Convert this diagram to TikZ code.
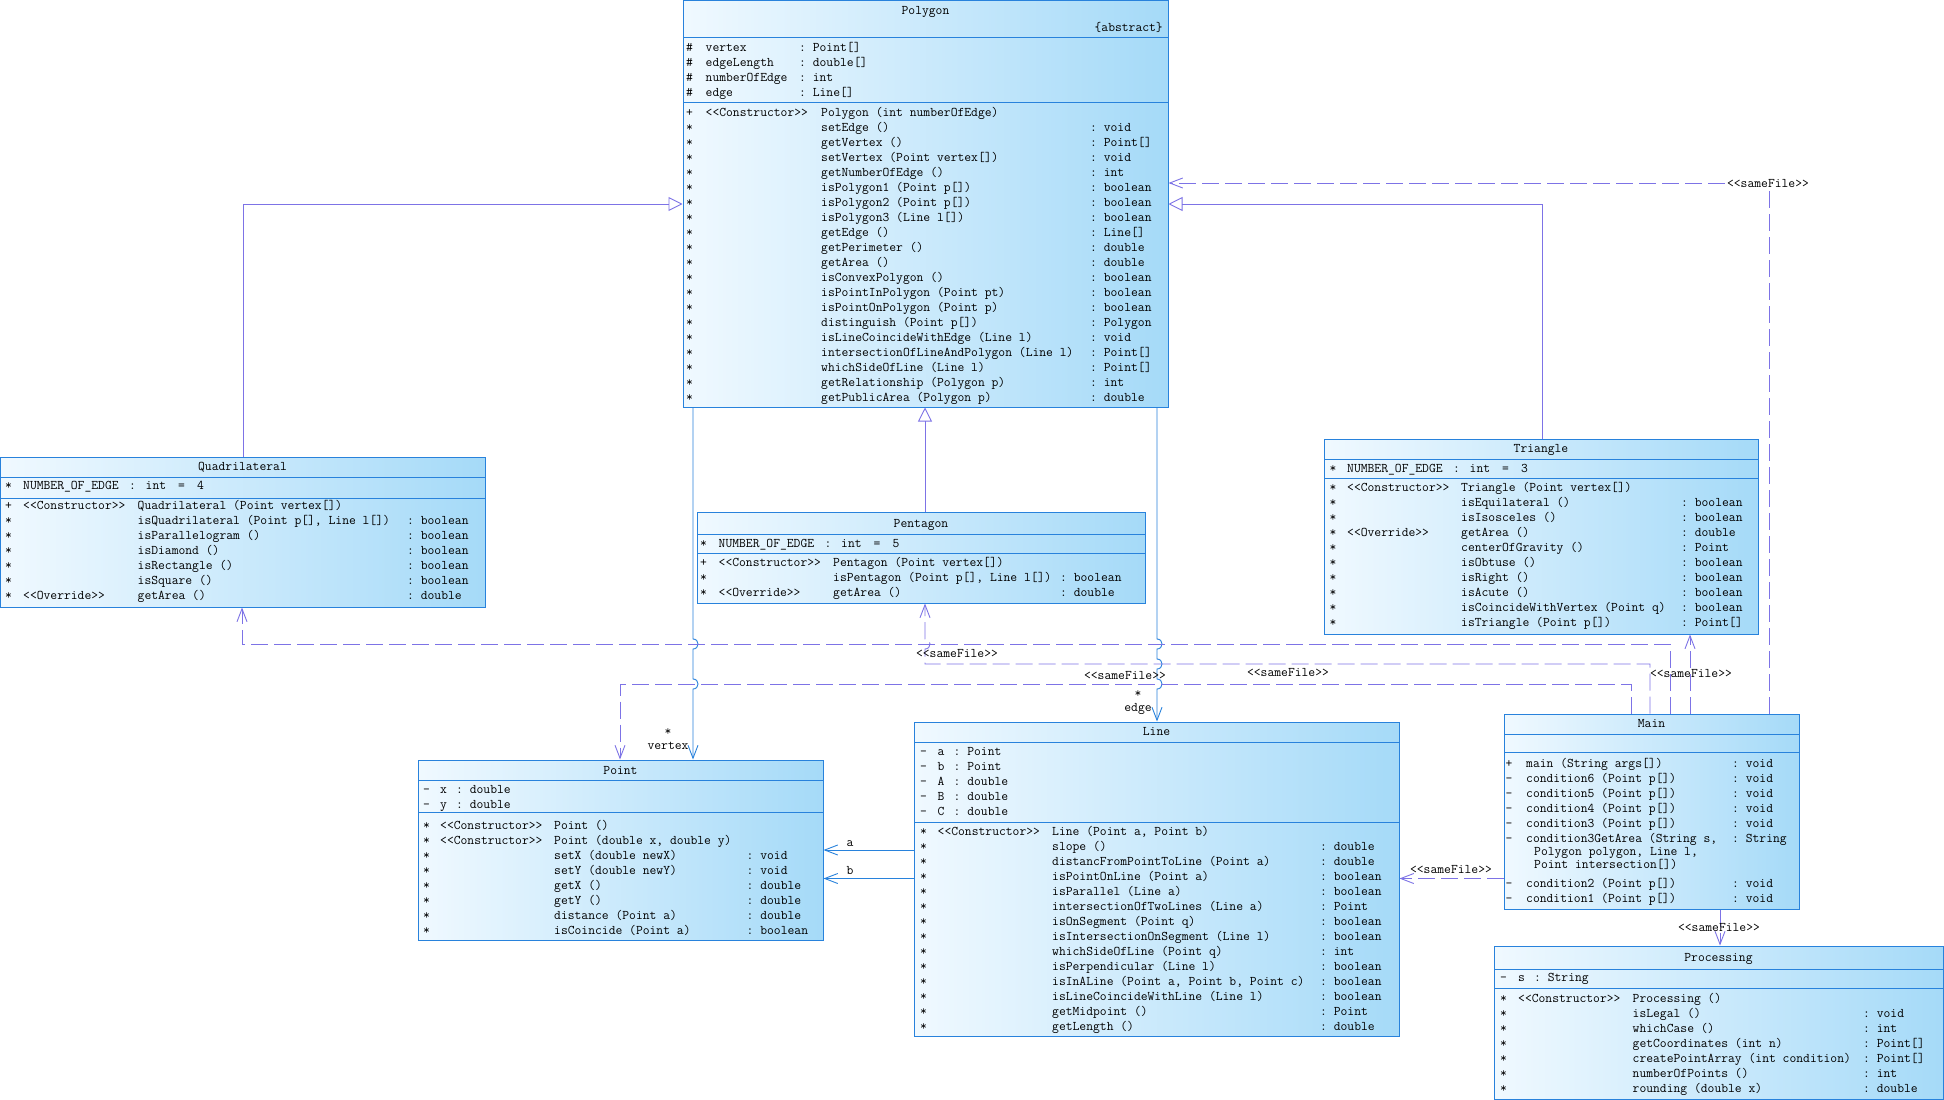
\documentclass[tikz,border=0pt]{standalone}
\usepackage{fontspec}
\setmonofont{Latin Modern Mono}
\usetikzlibrary{arrows.meta,fit}
\definecolor{bord}{RGB}{40,130,220}
\definecolor{depc}{RGB}{125,115,230}
\definecolor{shl}{RGB}{240,249,255}
\definecolor{shr}{RGB}{165,218,248}
\newcounter{tn}
\newcommand\umltext[3][txt]{\stepcounter{tn}\node[#1] (tx\arabic{tn}) at (#2) {#3};}
\newcommand\umlt[2]{\if\relax\detokenize{#2}\relax\else\umltext{#1}{#2}\fi}
\newcommand\umlty[2]{\if\relax\detokenize{#2}\relax\else\umltext{#1}{: #2}\fi}
\newcommand\umlrow[5]{\umlt{\cA,#1}{#2}\umlt{\cB,#1}{#3}\umlt{\cC,#1}{#4}\umlty{\cD,#1}{#5}}
\newcommand\umlattr[4]{\umlt{\cA,#1}{#2}\umlt{\cB,#1}{#3}\umlty{\cE,#1}{#4}}
\newcommand\umlnum[2]{\umlt{\cA,#1}{*}\umlt{\cB,#1}{NUMBER\_OF\_EDGE}\umlt{\cB+106,#1}{:}\umlt{\cB+122.5,#1}{int}\umlt{\cB+155,#1}{=}\umlt{\cB+174,#1}{#2}}
\tikzset{
  txt/.style={anchor=west, inner sep=0pt, text height=8pt, text depth=0pt},
  ttl/.style={anchor=center, inner sep=0pt, text height=8pt, text depth=0pt},
  ttle/.style={anchor=east, inner sep=0pt, text height=8pt, text depth=0pt},
  lblw/.style={anchor=center, inner sep=1pt, text height=8pt, text depth=0pt, fill=white},
  box/.style={draw=bord, line width=1pt, left color=shl, right color=shr, inner sep=0pt},
  sepl/.style={draw=bord, line width=1pt},
  gen/.style={draw=depc, line width=0.9pt, -{Triangle[open, length=14pt, width=14pt]}},
  assoc/.style={draw=bord, line width=0.9pt, -{Straight Barb[length=13pt, width=10pt]}},
  dep/.style={draw=depc, line width=0.9pt, dash pattern=on 17pt off 6pt, -{Straight Barb[length=13pt, width=10pt]}},
}
\begin{document}
\begin{tikzpicture}[x=1pt, y=-1pt, font={\ttfamily\fontsize{13.24}{15}\selectfont}]
\fill[white] (0,0) rectangle (1944,1100);
\useasboundingbox (0,0) rectangle (1944,1100);

% ---------- boxes ----------
\node[box, fit={(683,0.7) (1168,407)}] (polygon) {};
\node[box, fit={(0.7,457) (485,607)}] (quad) {};
\node[box, fit={(697,512) (1145,603)}] (pent) {};
\node[box, fit={(1324,439) (1758,634)}] (tri) {};
\node[box, fit={(418,760) (823,940)}] (point) {};
\node[box, fit={(914,722) (1399,1036)}] (line) {};
\node[box, fit={(1504,714) (1799,909)}] (main) {};
\node[box, fit={(1494,946) (1943,1099)}] (proc) {};

% separators
\draw[sepl] (683,37.5) -- (1168,37.5);  \draw[sepl] (683,102) -- (1168,102);
\draw[sepl] (0.7,477) -- (485,477);     \draw[sepl] (0.7,498) -- (485,498);
\draw[sepl] (697,534) -- (1145,534);    \draw[sepl] (697,553) -- (1145,553);
\draw[sepl] (1324,459) -- (1758,459);   \draw[sepl] (1324,478) -- (1758,478);
\draw[sepl] (418,780) -- (823,780);     \draw[sepl] (418,812) -- (823,812);
\draw[sepl] (914,742) -- (1399,742);    \draw[sepl] (914,822) -- (1399,822);
\draw[sepl] (1504,734) -- (1799,734);   \draw[sepl] (1504,752) -- (1799,752);
\draw[sepl] (1494,969) -- (1943,969);   \draw[sepl] (1494,988) -- (1943,988);

% ---------- Polygon ----------
\umltext[ttl]{925.5,10}{Polygon}
\umltext[ttle]{1163,27}{\{abstract\}}
\def\cA{686}\def\cB{705.5}\def\cC{821}\def\cD{1090}\def\cE{799}
\umlattr{47}{\#}{vertex}{Point[]}
\umlattr{62}{\#}{edgeLength}{double[]}
\umlattr{77}{\#}{numberOfEdge}{int}
\umlattr{92}{\#}{edge}{Line[]}
\umlrow{112}{+}{<<Constructor>>}{Polygon (int numberOfEdge)}{}
\umlrow{127}{*}{}{setEdge ()}{void}
\umlrow{142}{*}{}{getVertex ()}{Point[]}
\umlrow{157}{*}{}{setVertex (Point vertex[])}{void}
\umlrow{172}{*}{}{getNumberOfEdge ()}{int}
\umlrow{187}{*}{}{isPolygon1 (Point p[])}{boolean}
\umlrow{202}{*}{}{isPolygon2 (Point p[])}{boolean}
\umlrow{217}{*}{}{isPolygon3 (Line l[])}{boolean}
\umlrow{232}{*}{}{getEdge ()}{Line[]}
\umlrow{247}{*}{}{getPerimeter ()}{double}
\umlrow{262}{*}{}{getArea ()}{double}
\umlrow{277}{*}{}{isConvexPolygon ()}{boolean}
\umlrow{292}{*}{}{isPointInPolygon (Point pt)}{boolean}
\umlrow{307}{*}{}{isPointOnPolygon (Point p)}{boolean}
\umlrow{322}{*}{}{distinguish (Point p[])}{Polygon}
\umlrow{337}{*}{}{isLineCoincideWithEdge (Line l)}{void}
\umlrow{352}{*}{}{intersectionOfLineAndPolygon (Line l)}{Point[]}
\umlrow{367}{*}{}{whichSideOfLine (Line l)}{Point[]}
\umlrow{382}{*}{}{getRelationship (Polygon p)}{int}
\umlrow{397}{*}{}{getPublicArea (Polygon p)}{double}

% ---------- Quadrilateral ----------
\umltext[ttl]{242.5,466}{Quadrilateral}
\def\cA{5}\def\cB{23}\def\cC{137.5}\def\cD{407}
\umlnum{485}{4}
\umlrow{505}{+}{<<Constructor>>}{Quadrilateral (Point vertex[])}{}
\umlrow{520}{*}{}{isQuadrilateral (Point p[], Line l[])}{boolean}
\umlrow{535}{*}{}{isParallelogram ()}{boolean}
\umlrow{550}{*}{}{isDiamond ()}{boolean}
\umlrow{565}{*}{}{isRectangle ()}{boolean}
\umlrow{580}{*}{}{isSquare ()}{boolean}
\umlrow{595}{*}{<<Override>>}{getArea ()}{double}

% ---------- Pentagon ----------
\umltext[ttl]{921,523}{Pentagon}
\def\cA{700}\def\cB{718.5}\def\cC{833}\def\cD{1060}
\umlnum{543}{5}
\umlrow{562}{+}{<<Constructor>>}{Pentagon (Point vertex[])}{}
\umlrow{577}{*}{}{isPentagon (Point p[], Line l[])}{boolean}
\umlrow{592}{*}{<<Override>>}{getArea ()}{double}

% ---------- Triangle ----------
\umltext[ttl]{1541,448}{Triangle}
\def\cA{1329.5}\def\cB{1347}\def\cC{1461}\def\cD{1681}
\umlnum{468}{3}
\umlrow{487}{*}{<<Constructor>>}{Triangle (Point vertex[])}{}
\umlrow{502}{*}{}{isEquilateral ()}{boolean}
\umlrow{517}{*}{}{isIsosceles ()}{boolean}
\umlrow{532}{*}{<<Override>>}{getArea ()}{double}
\umlrow{547}{*}{}{centerOfGravity ()}{Point}
\umlrow{562}{*}{}{isObtuse ()}{boolean}
\umlrow{577}{*}{}{isRight ()}{boolean}
\umlrow{592}{*}{}{isAcute ()}{boolean}
\umlrow{607}{*}{}{isCoincideWithVertex (Point q)}{boolean}
\umlrow{622}{*}{}{isTriangle (Point p[])}{Point[]}

% ---------- Point ----------
\umltext[ttl]{620.5,770}{Point}
\def\cA{423}\def\cB{440}\def\cC{554}\def\cD{746.5}\def\cE{456}
\umlattr{789}{-}{x}{double}
\umlattr{804}{-}{y}{double}
\umlrow{825}{*}{<<Constructor>>}{Point ()}{}
\umlrow{840}{*}{<<Constructor>>}{Point (double x, double y)}{}
\umlrow{855}{*}{}{setX (double newX)}{void}
\umlrow{870}{*}{}{setY (double newY)}{void}
\umlrow{885}{*}{}{getX ()}{double}
\umlrow{900}{*}{}{getY ()}{double}
\umlrow{915}{*}{}{distance (Point a)}{double}
\umlrow{930}{*}{}{isCoincide (Point a)}{boolean}

% ---------- Line ----------
\umltext[ttl]{1156.5,731}{Line}
\def\cA{920}\def\cB{937.5}\def\cC{1052}\def\cD{1320}\def\cE{953.5}
\umlattr{751}{-}{a}{Point}
\umlattr{766}{-}{b}{Point}
\umlattr{781}{-}{A}{double}
\umlattr{796}{-}{B}{double}
\umlattr{811}{-}{C}{double}
\umlrow{831}{*}{<<Constructor>>}{Line (Point a, Point b)}{}
\umlrow{846}{*}{}{slope ()}{double}
\umlrow{861}{*}{}{distancFromPointToLine (Point a)}{double}
\umlrow{876}{*}{}{isPointOnLine (Point a)}{boolean}
\umlrow{891}{*}{}{isParallel (Line a)}{boolean}
\umlrow{906}{*}{}{intersectionOfTwoLines (Line a)}{Point}
\umlrow{921}{*}{}{isOnSegment (Point q)}{boolean}
\umlrow{936}{*}{}{isIntersectionOnSegment (Line l)}{boolean}
\umlrow{951}{*}{}{whichSideOfLine (Point q)}{int}
\umlrow{966}{*}{}{isPerpendicular (Line l)}{boolean}
\umlrow{981}{*}{}{isInALine (Point a, Point b, Point c)}{boolean}
\umlrow{996}{*}{}{isLineCoincideWithLine (Line l)}{boolean}
\umlrow{1011}{*}{}{getMidpoint ()}{Point}
\umlrow{1026}{*}{}{getLength ()}{double}

% ---------- Main ----------
\umltext[ttl]{1651.5,723}{Main}
\def\cA{1505.5}\def\cB{1526}\def\cC{1526}\def\cD{1732}
\umlrow{763}{+}{}{main (String args[])}{void}
\umlrow{778}{-}{}{condition6 (Point p[])}{void}
\umlrow{793}{-}{}{condition5 (Point p[])}{void}
\umlrow{808}{-}{}{condition4 (Point p[])}{void}
\umlrow{823}{-}{}{condition3 (Point p[])}{void}
\umlrow{838}{-}{}{condition3GetArea (String s,}{String}
\umltext{1534,851}{Polygon polygon, Line l,}
\umltext{1534,864}{Point intersection[])}
\umlrow{883}{-}{}{condition2 (Point p[])}{void}
\umlrow{898}{-}{}{condition1 (Point p[])}{void}

% ---------- Processing ----------
\umltext[ttl]{1718.5,957}{Processing}
\def\cA{1500}\def\cB{1518}\def\cC{1632.5}\def\cD{1863}\def\cE{1534}
\umlattr{977}{-}{s}{String}
\umlrow{998}{*}{<<Constructor>>}{Processing ()}{}
\umlrow{1013}{*}{}{isLegal ()}{void}
\umlrow{1028}{*}{}{whichCase ()}{int}
\umlrow{1043}{*}{}{getCoordinates (int n)}{Point[]}
\umlrow{1058}{*}{}{createPointArray (int condition)}{Point[]}
\umlrow{1073}{*}{}{numberOfPoints ()}{int}
\umlrow{1088}{*}{}{rounding (double x)}{double}

% ---------- generalizations ----------
\coordinate (gq) at (243,204);
\coordinate (gt) at (1542,204);
\coordinate (gp) at (925,0);
\draw[gen] (gq |- quad.north) -- (gq) -- (gq -| polygon.west);
\draw[gen] (gt |- tri.north) -- (gt) -- (gt -| polygon.east);
\draw[gen] (gp |- pent.north) -- (gp |- polygon.south);

% ---------- associations ----------
\coordinate (vx) at (693,0);
\coordinate (ex) at (1157,0);
\draw[assoc] (vx |- polygon.south) -- (693,639) .. controls (699.7,639) and (699.7,649) .. (693,649)
  -- (693,679) .. controls (699.7,679) and (699.7,689) .. (693,689) -- (vx |- point.north);
\draw[assoc] (ex |- polygon.south) -- (1157,639) .. controls (1163.7,639) and (1163.7,649) .. (1157,649)
  -- (1157,659) .. controls (1163.7,659) and (1163.7,669) .. (1157,669)
  -- (1157,679) .. controls (1163.7,679) and (1163.7,689) .. (1157,689) -- (ex |- line.north);
\coordinate (ya) at (0,850);
\coordinate (yb) at (0,878.5);
\draw[assoc] (ya -| line.west) -- (ya -| point.east);
\draw[assoc] (yb -| line.west) -- (yb -| point.east);
\umltext[ttl]{668,731}{*}
\umltext[ttl]{668,745}{vertex}
\umltext[ttl]{1138,693}{*}
\umltext[ttl]{1138,707}{edge}
\umltext[ttl]{850,842}{a}
\umltext[ttl]{850,870}{b}

% ---------- dependencies ----------
\coordinate (d1) at (1769,183);
\coordinate (d2) at (1690,0);
\coordinate (d3) at (1670,644);
\coordinate (d3b) at (242,644);
\coordinate (d4) at (1650,664);
\coordinate (d4b) at (925,664);
\coordinate (d5) at (1631,684);
\coordinate (d5b) at (620,684);
\coordinate (d6) at (0,878.5);
\coordinate (d7) at (1720,0);
\draw[dep] (d1 |- main.north) -- (d1) -- (d1 -| polygon.east);
\draw[dep] (d2 |- main.north) -- (d2 |- tri.south);
\draw[dep] (d3 |- main.north) -- (d3) -- (d3b) -- (d3b |- quad.south);
\draw[dep] (d4 |- main.north) -- (d4) -- (d4b) -- (925,649) .. controls (931.7,649) and (931.7,639) .. (925,639) -- (d4b |- pent.south);
\draw[dep] (d5 |- main.north) -- (d5) -- (d5b) -- (d5b |- point.north);
\draw[dep] (d6 -| main.west) -- (d6 -| line.east);
\draw[dep] (d7 |- main.south) -- (d7 |- proc.north);

\umltext[lblw]{1768,183}{<<sameFile>>}
\umltext[ttl]{1691,673}{<<sameFile>>}
\umltext[ttl]{957,653}{<<sameFile>>}
\umltext[ttl]{1125,675}{<<sameFile>>}
\umltext[ttl]{1288,672}{<<sameFile>>}
\umltext[ttl]{1451,869}{<<sameFile>>}
\umltext[ttl]{1719,927}{<<sameFile>>}
\end{tikzpicture}
\end{document}
